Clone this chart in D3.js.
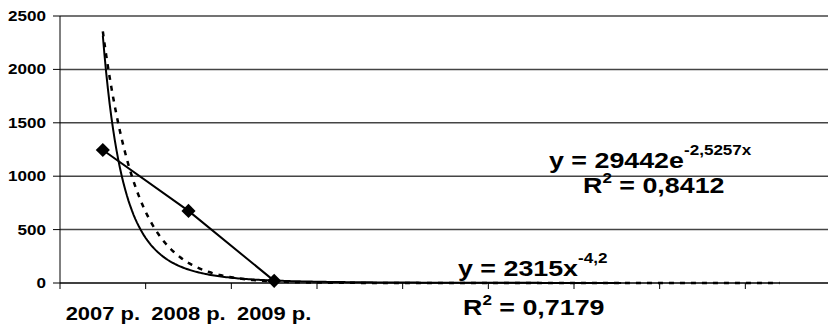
<!DOCTYPE html>
<html>
<head>
<meta charset="utf-8">
<script src="https://cdn.jsdelivr.net/npm/d3@7"></script>
<style>
  body { margin: 0; background: #fff; }
  svg { display: block; }
  text { font-family: "Liberation Sans", Arial, sans-serif; font-weight: bold; fill: #000; }
</style>
</head>
<body>
<svg id="chart" width="828" height="326"></svg>
<script>
// chart data
var categoryLabels = ["2007 р.", "2008 р.", "2009 р.", "", "", "", "", "", ""];
var seriesValues = [1245, 675, 20];
var yTicks = [0, 500, 1000, 1500, 2000, 2500];

// trendlines (as printed on the chart)
var expCoef = 29442, expRate = -2.5257, expEnd = 8.9;
var powCoef = 2315, powExp = -4.2, powEnd = 7.05;

var svg = d3.select("#chart");
var sx = 1.22; // text in the picture is stretched horizontally

var x = d3.scaleLinear().domain([0.5, categoryLabels.length + 0.5]).range([60, 831]);
var y = d3.scaleLinear().domain([0, 2500]).range([283, 16]);

// gridlines
svg.append("g").selectAll("line").data(yTicks.filter(function(d){ return d > 0; }))
  .enter().append("line")
  .attr("x1", 60).attr("x2", 828)
  .attr("y1", function(d){ return y(d); }).attr("y2", function(d){ return y(d); })
  .attr("stroke", "#444").attr("stroke-width", 1.5);

// y axis
svg.append("line").attr("x1", 60).attr("x2", 60).attr("y1", y(2500)).attr("y2", y(0))
  .attr("stroke", "#000").attr("stroke-width", 1);
svg.append("g").selectAll("line").data(yTicks).enter().append("line")
  .attr("x1", 53).attr("x2", 60)
  .attr("y1", function(d){ return y(d); }).attr("y2", function(d){ return y(d); })
  .attr("stroke", "#000").attr("stroke-width", 1);
svg.append("g").selectAll("text").data(yTicks).enter().append("text")
  .attr("transform", function(d){ return "translate(46," + (y(d) + 5) + ") scale(" + sx + ",1)"; })
  .attr("text-anchor", "end").style("font-size", "14px")
  .text(function(d){ return d; });

// x axis
svg.append("line").attr("x1", 60).attr("x2", 828).attr("y1", y(0)).attr("y2", y(0))
  .attr("stroke", "#000").attr("stroke-width", 1.5);
var bounds = d3.range(categoryLabels.length + 1).map(function(i){ return i + 0.5; });
svg.append("g").selectAll("line").data(bounds).enter().append("line")
  .attr("x1", function(d){ return x(d); }).attr("x2", function(d){ return x(d); })
  .attr("y1", y(0)).attr("y2", y(0) + 6)
  .attr("stroke", "#000").attr("stroke-width", 1);
svg.append("g").selectAll("text").data(categoryLabels).enter().append("text")
  .attr("transform", function(d, i){ return "translate(" + x(i + 1) + ",320) scale(" + sx + ",1)"; })
  .attr("text-anchor", "middle").style("font-size", "18px")
  .text(function(d){ return d; });

// trendlines
var line = d3.line().x(function(d){ return x(d[0]); }).y(function(d){ return y(d[1]); });
var powPts = d3.range(1, powEnd, 0.02).concat([powEnd]).map(function(t){ return [t, powCoef * Math.pow(t, powExp)]; });
var expPts = d3.range(1, expEnd, 0.02).concat([expEnd]).map(function(t){ return [t, expCoef * Math.exp(expRate * t)]; });

svg.append("path").datum(expPts).attr("d", line)
  .attr("fill", "none").attr("stroke", "#000").attr("stroke-width", 2.5)
  .attr("stroke-dasharray", "5,6");
svg.append("path").datum(powPts).attr("d", line)
  .attr("fill", "none").attr("stroke", "#000").attr("stroke-width", 2);

// series
var pts = seriesValues.map(function(v, i){ return [i + 1, v]; });
svg.append("path").datum(pts).attr("d", line)
  .attr("fill", "none").attr("stroke", "#000").attr("stroke-width", 2);
svg.append("g").selectAll("path").data(pts).enter().append("path")
  .attr("d", d3.symbol().type(d3.symbolSquare).size(100))
  .attr("transform", function(d){ return "translate(" + x(d[0]) + "," + y(d[1]) + ") rotate(45)"; })
  .attr("fill", "#000");

// equation labels
function equation(px, py, base, sup, tail, rise) {
  var t = svg.append("text")
    .attr("transform", "translate(" + px + "," + py + ") scale(" + sx + ",1)")
    .style("font-size", "22px");
  t.append("tspan").text(base);
  t.append("tspan").attr("dy", -rise).style("font-size", "14px").text(sup);
  if (tail) t.append("tspan").attr("dy", rise).text(tail);
}
equation(549, 168, "y = " + expCoef + "e", String(expRate).replace(".", ",") + "x", null, 13);
equation(583, 193, "R", "2", " = 0,8412", 10);
equation(458, 276, "y = " + powCoef + "x", String(powExp).replace(".", ","), null, 13);
equation(463, 315, "R", "2", " = 0,7179", 10);
</script>
</body>
</html>
